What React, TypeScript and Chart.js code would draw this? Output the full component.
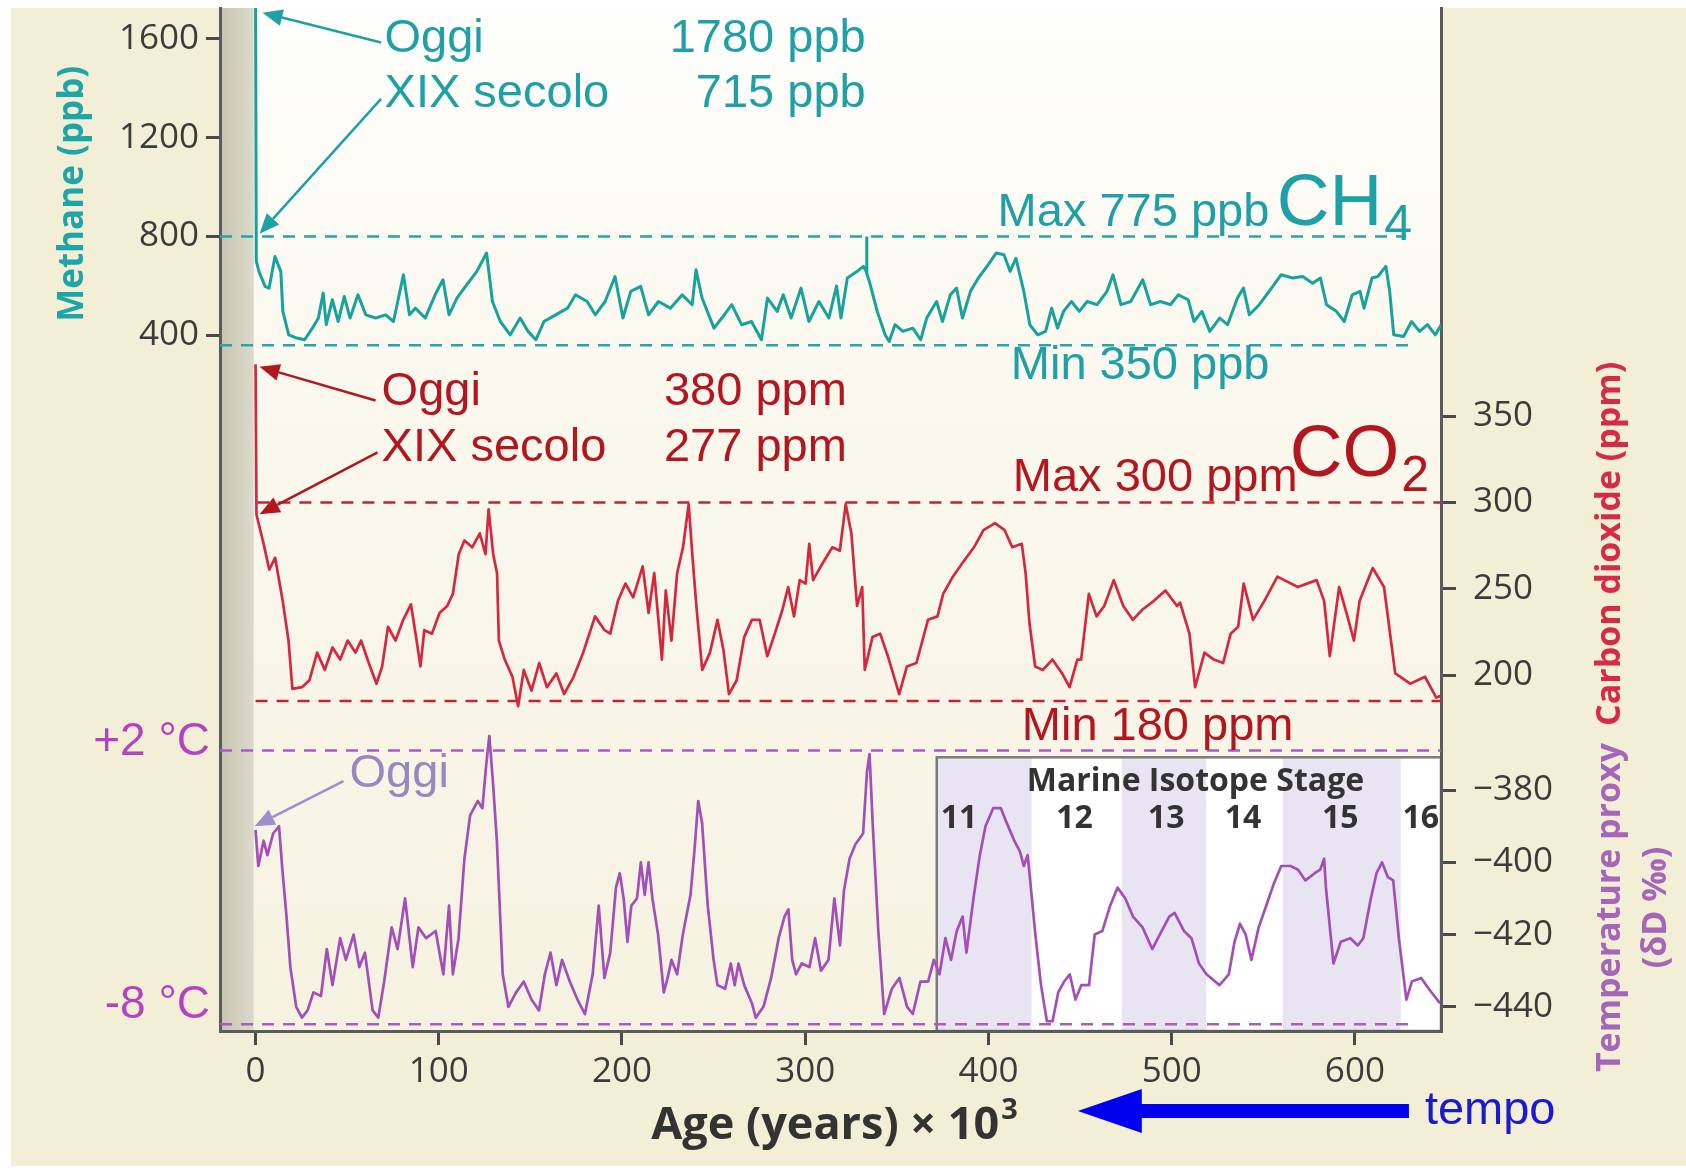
import React, { useEffect, useRef } from 'react';
import { Chart, registerables } from 'chart.js';

Chart.register(...registerables);

const W = 1686;
const H = 1168;

// ---------- axes ----------
const xTickValues = [0, 100, 200, 300, 400, 500, 600];
const xRange = [-19.4, 647];
const ch4TickValues = [400, 800, 1200, 1600];
const ch4Range = [-2416, 1725];
const co2TickValues = [200, 250, 300, 350];
const co2Range = [-6.1, 586.3];
const dDTickValues = [-440, -420, -400, -380];
const dDRange = [-446.7, -163.4];
const tempLabelValues = [-439.5, -366.7];
const tempLabelTexts = ['-8 °C', '+2 °C'];

// ---------- series: [age kyr, value] ----------
const ch4Series = [
  [0, 1780], [0.4, 700], [1.9, 658], [5.2, 598], [7.4, 591], [10.6, 719], [13.8, 658], [14.9, 497], [18.1, 402], [22.5, 389],
  [26.8, 382], [31, 429], [34.3, 470], [36.9, 571], [38.6, 443], [41.9, 544], [45.1, 456], [48.4, 557], [51.6, 470], [55.9, 564],
  [60.2, 483], [65.6, 470], [71, 483], [75.3, 456], [80.7, 645], [84, 483], [87.2, 510], [92.6, 470], [98, 564], [102.3, 625],
  [105.6, 483], [109.9, 551], [115.3, 605], [120.7, 658], [126.1, 733], [129.3, 537], [133.6, 456], [139, 402], [144.4, 470], [148.7, 416],
  [153, 382], [157.4, 456], [163.8, 483], [170.3, 510], [174.6, 564], [181, 537], [185.4, 483], [190.8, 537], [196.2, 638], [200.5, 470],
  [204.8, 578], [210.2, 598], [214.5, 483], [219.9, 537], [226.4, 510], [232.9, 564], [238.3, 524], [240.4, 665], [243.7, 551], [250.2, 429],
  [254.5, 470], [259.9, 524], [265.3, 443], [270.7, 456], [276.1, 382], [279.4, 551], [284.7, 497], [288, 564], [292.3, 470], [297.7, 591],
  [302, 456], [307.5, 537], [312.9, 470], [317.1, 600], [319.5, 470], [323, 632], [328.4, 659], [331.7, 679], [333.3, 660], [333.5, 795],
  [333.7, 650], [335, 618], [339.3, 497], [343.6, 402], [345.8, 375], [349, 443], [353.3, 416], [358.7, 429], [363, 382], [366.3, 470],
  [371.7, 537], [374.9, 456], [379.2, 564], [382.6, 591], [385.8, 470], [390.2, 578], [394.5, 632], [399.9, 686], [404.2, 733], [408.5, 726],
  [411.8, 659], [415, 712], [419.3, 578], [422.6, 443], [426.9, 402], [431.2, 416], [434.5, 510], [437.7, 429], [441, 497], [445.3, 537],
  [449.6, 497], [453.9, 537], [459.3, 524], [464.7, 578], [468, 645], [472.3, 524], [477.7, 537], [484.2, 625], [488.5, 524], [493.9, 537],
  [499.3, 524], [503.6, 564], [509, 544], [512.2, 456], [516.5, 497], [520.8, 416], [526.2, 470], [530.5, 443], [535.9, 551], [539.2, 591],
  [542.4, 483], [547.8, 524], [553.2, 578], [559.7, 645], [566.1, 632], [571.5, 638], [576.9, 611], [581.2, 632], [584.5, 524], [589.9, 497],
  [594.2, 456], [598.5, 564], [602.8, 578], [605, 510], [609.3, 632], [612.5, 638], [616.9, 679], [619, 578], [621.2, 402], [626.6, 395],
  [630.9, 456], [635.3, 416], [639.6, 443], [643.9, 402], [647.1, 443],
];

const co2Series = [
  [0, 380], [0.5, 293], [4.4, 276], [7.5, 261], [10.7, 268], [14.8, 243], [18, 220], [20.1, 192], [25.3, 193], [29.4, 197],
  [33.6, 213], [37.8, 203], [42, 216], [46.2, 209], [50.3, 220], [54.5, 213], [57.6, 220], [61.8, 207], [66, 195], [69.1, 205],
  [72.3, 228], [76.4, 220], [80.6, 232], [84.8, 241], [87.9, 220], [90, 205], [92.1, 226], [96.3, 224], [100.4, 236], [104.6, 240],
  [107.7, 247], [110.9, 270], [114, 278], [118.2, 274], [122.4, 282], [125.5, 270], [127.2, 296], [129.7, 270], [131.8, 259], [132.8, 220],
  [136, 209], [140.2, 199], [143.3, 182], [146.4, 203], [150.6, 191], [154.8, 207], [159, 193], [164.2, 201], [168.4, 189], [173.6, 199],
  [178.8, 213], [185.3, 234], [190.5, 226], [193.6, 224], [197.8, 243], [201.9, 253], [206.1, 245], [211.3, 263], [214.5, 236], [217.6, 259],
  [221.8, 209], [223.9, 249], [227, 220], [230.1, 259], [233.3, 274], [236.4, 299], [238.5, 268], [240.6, 240], [243.8, 203], [248, 213],
  [252.1, 232], [255.3, 215], [258.4, 189], [262.6, 197], [266.7, 222], [270.9, 232], [275.1, 232], [279.3, 211], [283.4, 224], [287.6, 238],
  [290.7, 251], [293.9, 234], [297, 255], [300.2, 253], [302.2, 276], [304.3, 255], [308.5, 263], [314.8, 274], [318.9, 272], [322.1, 299],
  [325.2, 282], [328.3, 240], [331.1, 251], [332.5, 203], [336.7, 222], [340.9, 224], [345.1, 211], [351.3, 189], [355.5, 205], [360.7, 207],
  [367, 232], [372.2, 234], [375.3, 247], [380.6, 257], [385.9, 265], [392.1, 274], [397.3, 284], [403.6, 288], [408.8, 284], [413, 274],
  [418.2, 276], [420.3, 259], [422.4, 230], [425.5, 205], [429.7, 203], [434.9, 209], [440.2, 201], [444.3, 193], [448.5, 209], [450.6, 209],
  [454.8, 247], [459, 234], [463.2, 240], [468.4, 255], [473.6, 240], [478.8, 232], [484.1, 238], [490.3, 243], [496.6, 249], [502.9, 240],
  [504.6, 242], [509.7, 224], [512.8, 193], [517.9, 213], [523, 209], [528.1, 207], [532.2, 224], [536.3, 228], [539.3, 253], [544.4, 232],
  [550.6, 243], [557.7, 257], [568.9, 251], [579.1, 255], [583.2, 243], [586.3, 211], [591.4, 251], [595.4, 236], [599.5, 220], [602.6, 243],
  [609.7, 262], [615.9, 251], [622, 201], [630.2, 195], [638.3, 199], [644.4, 187], [646.9, 188],
];

const dDSeries = [
  [0, -391], [1.5, -401], [4.4, -394], [6.5, -398], [9.6, -392], [12.8, -390], [14.8, -403], [16.9, -415], [19, -429], [22.2, -440],
  [25.3, -443], [28.4, -441], [31.6, -436], [35.7, -437], [38.9, -424], [42, -434], [46.2, -421], [49.3, -427], [53.5, -420], [56.6, -429],
  [59.7, -425], [63.9, -441], [67, -443], [70.2, -433], [74.3, -418], [77.5, -424], [81.6, -410], [85.8, -429], [88.9, -418], [93.1, -421],
  [98.3, -419], [102.5, -431], [105.6, -412], [107.7, -431], [110.8, -421], [114, -399], [117.1, -387], [121.3, -383], [123.8, -385], [125.9, -373],
  [127.6, -365], [129.6, -378], [131.7, -394], [134.9, -431], [138, -440], [142.2, -436], [146.4, -433], [150.6, -438], [154.7, -441], [157.9, -431],
  [161, -425], [164.2, -434], [167.3, -427], [171.5, -433], [175.7, -438], [179.8, -442], [184, -431], [187.3, -412], [190.4, -432], [193.6, -425],
  [196.7, -407], [198.8, -403], [200.9, -410], [203, -422], [205.1, -412], [208.2, -410], [210.3, -400], [212.4, -409], [214.5, -400], [216.6, -410],
  [219.7, -420], [222.8, -436], [224.9, -432], [227, -427], [230.1, -431], [233.2, -420], [237.4, -409], [239.5, -397], [241.6, -383], [243.7, -389],
  [246.8, -412], [250, -427], [252.1, -434], [256.3, -435], [259.4, -428], [261.5, -434], [263.6, -428], [266.7, -434], [270.9, -439], [273, -443],
  [277.2, -440], [281.4, -432], [285.5, -421], [288.7, -415], [290.8, -413], [292.9, -427], [295, -431], [298.1, -428], [302.3, -429], [305.4, -421],
  [308.6, -430], [312.7, -427], [315.9, -410], [319, -423], [321.1, -408], [324.2, -399], [327.4, -395], [331.6, -392], [333.7, -375], [335.1, -370],
  [336.8, -389], [339.9, -419], [343.1, -442], [347.3, -435], [351.4, -432], [355.6, -440], [358.7, -442], [362.9, -433], [367.1, -433], [370.2, -427],
  [373.3, -431], [376.5, -421], [379.6, -427], [382.7, -419], [385.9, -415], [388, -425], [392.1, -409], [395.3, -398], [398.4, -390], [402.6, -385],
  [406.8, -385], [409.9, -389], [414.1, -394], [417.2, -397], [419.3, -401], [421.4, -398], [422.4, -403], [425.6, -420], [428.7, -434], [431.9, -444],
  [435, -444], [438.1, -436], [441.3, -433], [444.4, -431], [447.5, -438], [450.7, -434], [454.9, -434], [458, -420], [462.2, -419], [466.4, -412],
  [470.5, -407], [474.7, -410], [478.9, -415], [484.1, -418], [489.4, -424], [493.5, -420], [498.7, -415], [501.6, -414], [506.7, -419], [510.8, -421],
  [514.9, -428], [519, -431], [526.1, -434], [531.2, -431], [534.3, -422], [537.3, -417], [540.4, -420], [543.5, -427], [547.5, -418], [551.6, -412],
  [555.7, -406], [559.8, -401], [564.9, -401], [568.9, -402], [573, -405], [578.1, -403], [581.1, -402], [583.2, -399], [584.2, -407], [588.3, -428],
  [592.3, -422], [597.5, -421], [601.6, -423], [604.6, -421], [608.7, -410], [611.8, -403], [614.8, -400], [617.9, -404], [620.9, -405], [624, -421],
  [628.1, -438], [631.1, -433], [636.2, -432], [640.3, -435], [646.4, -439],
];

// reference lines: [value, fromAge, toAge]
const ch4RefLines = [[800, -19.4, 628], [360, -19.4, 629]];
const co2RefLines = [[300, 1, 647], [185, 0, 647]];
const dDRefLines = [[-369, -19.4, 647], [-444.8, -19.4, 630]];

// Marine isotope stages
const misBounds = [371.8, 423.6, 472.8, 518.9, 560.7, 625.1, 647];
const misNames = ['11', '12', '13', '14', '15', '16'];
const misLabelAges = [384, 447, 497, 539, 592, 636];
const misTopValue = -370.9;
const presentStrip = [-19.4, -1];

// ---------- styles ----------
const AXIS_FONT = "'Open Sans', 'DejaVu Sans', sans-serif";
const ANN_FONT = "'Liberation Sans', Arial, sans-serif";
const TEAL_LINE = '#17a29a';
const TEAL_TEXT = '#1f9fa6';
const RED_LINE = '#d3283f';
const RED_TEXT = '#b3161f';
const RED_DASH = '#c7222f';
const PURPLE_LINE = '#a24fb8';
const PURPLE_DASH = '#a95cc0';
const PURPLE_TEXT = '#b443c2';
const LAV_TEXT = '#9a87c0';
const TICK_TEXT = '#3b3b3b';
const ANN = 47;

function drawArrow(ctx: any, x0: number, y0: number, x1: number, y1: number, color: string, lw: number, head: number) {
  const ang = Math.atan2(y1 - y0, x1 - x0);
  const bx = x1 - head * Math.cos(ang);
  const by = y1 - head * Math.sin(ang);
  ctx.strokeStyle = color;
  ctx.fillStyle = color;
  ctx.lineWidth = lw;
  ctx.beginPath();
  ctx.moveTo(x0, y0);
  ctx.lineTo(bx, by);
  ctx.stroke();
  const hw = head * 0.42;
  ctx.beginPath();
  ctx.moveTo(x1, y1);
  ctx.lineTo(bx + hw * Math.sin(ang), by - hw * Math.cos(ang));
  ctx.lineTo(bx - hw * Math.sin(ang), by + hw * Math.cos(ang));
  ctx.closePath();
  ctx.fill();
}

function text(ctx: any, t: string, x: number, y: number, color: string, size: number, align = 'left', weight = 'normal', family = ANN_FONT) {
  ctx.font = `${weight} ${size}px ${family}`;
  ctx.fillStyle = color;
  ctx.textAlign = align;
  ctx.textBaseline = 'middle';
  ctx.fillText(t, x, y);
}

function subText(ctx: any, main: string, sub: string, x: number, y: number, color: string, size: number, subSize: number) {
  ctx.font = `normal ${size}px ${ANN_FONT}`;
  ctx.fillStyle = color;
  ctx.textAlign = 'left';
  ctx.textBaseline = 'middle';
  ctx.fillText(main, x, y);
  const w = ctx.measureText(main).width;
  ctx.font = `normal ${subSize}px ${ANN_FONT}`;
  ctx.fillText(sub, x + w + 2, y + size * 0.3);
}

function vText(ctx: any, t: string, cx: number, cy: number, color: string, size: number, weight = 'bold') {
  ctx.save();
  ctx.translate(cx, cy);
  ctx.rotate(-Math.PI / 2);
  ctx.font = `${weight} ${size}px ${AXIS_FONT}`;
  ctx.fillStyle = color;
  ctx.textAlign = 'center';
  ctx.textBaseline = 'middle';
  ctx.fillText(t, 0, 0);
  ctx.restore();
}

const bgPlugin = {
  id: 'bgPlugin',
  beforeDraw(chart: any) {
    const { ctx, chartArea: a, scales } = chart;
    const X = (v: number) => scales.x.getPixelForValue(v);
    const YT = (v: number) => scales.yT.getPixelForValue(v);
    ctx.save();
    ctx.fillStyle = '#ffffff';
    ctx.fillRect(0, 0, W, H);
    ctx.fillStyle = '#f3eed6';
    ctx.fillRect(11, a.top, W - 11, H - a.top - 2);
    const g = ctx.createLinearGradient(0, a.top, 0, a.bottom);
    g.addColorStop(0, '#fefefc');
    g.addColorStop(0.3, '#fbf9f0');
    g.addColorStop(1, '#f6f2e1');
    ctx.fillStyle = g;
    ctx.fillRect(a.left, a.top, a.right - a.left, a.bottom - a.top);
    // present-day strip
    const s0 = X(presentStrip[0]);
    const s1 = X(presentStrip[1]);
    const gs = ctx.createLinearGradient(s0, 0, s1, 0);
    gs.addColorStop(0, '#c6c3af');
    gs.addColorStop(1, '#dcdacb');
    ctx.fillStyle = gs;
    ctx.fillRect(s0, a.top, s1 - s0, a.bottom - a.top);
    // marine isotope stage inset
    const iy = YT(misTopValue);
    for (let i = 0; i < misNames.length; i++) {
      const l = X(misBounds[i]);
      const r = X(misBounds[i + 1]);
      ctx.fillStyle = i % 2 === 0 ? '#e9e4f1' : '#ffffff';
      ctx.fillRect(l, iy, r - l, a.bottom - iy);
    }
    const il = X(misBounds[0]);
    ctx.strokeStyle = '#7b7b7b';
    ctx.lineWidth = 2.5;
    ctx.strokeRect(il, iy, a.right - il, a.bottom - iy);
    text(ctx, 'Marine Isotope Stage', X(513), YT(-377.8), '#333333', 32, 'center', 'bold', AXIS_FONT);
    for (let i = 0; i < misNames.length; i++) {
      text(ctx, misNames[i], X(misLabelAges[i]), YT(-388), '#333333', 32, 'center', 'bold', AXIS_FONT);
    }
    ctx.restore();
  },
};

const annPlugin = {
  id: 'annPlugin',
  afterDatasetsDraw(chart: any) {
    const { ctx, chartArea: a, scales } = chart;
    const X = (v: number) => scales.x.getPixelForValue(v);
    const YC = (v: number) => scales.yCH4.getPixelForValue(v);
    const YO = (v: number) => scales.yCO2.getPixelForValue(v);
    const YT = (v: number) => scales.yT.getPixelForValue(v);
    ctx.save();
    // ---- methane ----
    text(ctx, 'Oggi', X(70.4), YC(1600), TEAL_TEXT, ANN);
    text(ctx, '1780 ppb', X(333), YC(1600), TEAL_TEXT, ANN, 'right');
    text(ctx, 'XIX secolo', X(70.4), YC(1375), TEAL_TEXT, ANN);
    text(ctx, '715 ppb', X(333), YC(1375), TEAL_TEXT, ANN, 'right');
    drawArrow(ctx, X(68.5), YC(1585), X(3.8), YC(1706), TEAL_TEXT, 2.5, 20);
    drawArrow(ctx, X(68.5), YC(1357), X(2.2), YC(811), TEAL_TEXT, 2.5, 20);
    text(ctx, 'Max 775 ppb', X(405), YC(896), TEAL_TEXT, ANN);
    subText(ctx, 'CH', '4', X(557.4), YC(930), TEAL_TEXT, 73, 50);
    text(ctx, 'Min 350 ppb', X(412.2), YC(276), TEAL_TEXT, ANN);
    // ---- CO2 ----
    text(ctx, 'Oggi', X(68.8), YO(364), RED_TEXT, ANN);
    text(ctx, '380 ppm', X(322.7), YO(364), RED_TEXT, ANN, 'right');
    text(ctx, 'XIX secolo', X(68.8), YO(331.4), RED_TEXT, ANN);
    text(ctx, '277 ppm', X(322.7), YO(331.4), RED_TEXT, ANN, 'right');
    drawArrow(ctx, X(65.5), YO(359), X(2.2), YO(378.5), RED_TEXT, 2.5, 20);
    drawArrow(ctx, X(66.6), YO(329), X(2.2), YO(293.2), RED_TEXT, 2.5, 20);
    text(ctx, 'Max 300 ppm', X(413.3), YO(314), RED_TEXT, ANN);
    subText(ctx, 'CO', '2', X(564.5), YO(327), RED_TEXT, 73, 50);
    text(ctx, 'Min 180 ppm', X(418.2), YO(170), RED_TEXT, ANN);
    // ---- temperature ----
    text(ctx, 'Oggi', X(51.3), YT(-375.6), LAV_TEXT, ANN);
    drawArrow(ctx, X(48), YT(-377.5), X(-0.5), YT(-390), '#9d8fcb', 2.5, 20);
    for (let i = 0; i < tempLabelValues.length; i++) {
      text(ctx, tempLabelTexts[i], a.left - 10, YT(tempLabelValues[i]), PURPLE_TEXT, 46, 'right');
    }
    // δD tick labels (same scale as the purple curve)
    for (const v of dDTickValues) {
      text(ctx, '\u2212' + Math.abs(v), a.right + 32, YT(v), TICK_TEXT, 35, 'left', 'normal', AXIS_FONT);
    }
    // ---- axis titles ----
    vText(ctx, 'Methane (ppb)', a.left - 147, YC(973), '#1fa5a8', 35);
    vText(ctx, 'Carbon dioxide (ppm)', a.right + 169, YO(276), '#d62a45', 34);
    vText(ctx, 'Temperature proxy', a.right + 169, YT(-412.5), '#a565b8', 34);
    vText(ctx, '(δD ‰)', a.right + 215, YT(-412.5), '#a565b8', 34);
    // x title with superscript
    ctx.font = `bold 45px ${AXIS_FONT}`;
    const mainT = 'Age (years) × 10';
    const mw = ctx.measureText(mainT).width;
    ctx.font = `bold 29px ${AXIS_FONT}`;
    const sw = ctx.measureText('3').width;
    const cx = X(316);
    const ty = a.bottom + 95;
    const x0 = cx - (mw + sw + 2) / 2;
    text(ctx, mainT, x0, ty, '#333333', 45, 'left', 'bold', AXIS_FONT);
    text(ctx, '3', x0 + mw + 2, ty - 15, '#333333', 29, 'left', 'bold', AXIS_FONT);
    // tempo arrow
    const ay = a.bottom + 80;
    const tip = X(448.8);
    const base = X(483.7);
    const tail = X(629.5);
    ctx.fillStyle = '#0000ee';
    ctx.fillRect(base - 2, ay - 7, tail - base + 2, 14);
    ctx.beginPath();
    ctx.moveTo(tip, ay);
    ctx.lineTo(base, ay - 22);
    ctx.lineTo(base, ay + 22);
    ctx.closePath();
    ctx.fill();
    text(ctx, 'tempo', X(638.2), ay, '#1a1ad0', ANN);
    ctx.restore();
  },
};

function toXY(series: number[][]) {
  return series.map(([x, y]) => ({ x, y }));
}

function refDatasets(lines: number[][], axis: string, color: string) {
  return lines.map(([v, from, to]) => ({
    data: [{ x: from, y: v }, { x: to, y: v }],
    yAxisID: axis,
    borderColor: color,
    borderWidth: 2.5,
    borderDash: [12, 9],
    pointRadius: 0,
    fill: false,
    tension: 0,
  }));
}

const noVPad = (s: any) => { s.paddingTop = 0; s.paddingBottom = 0; };

export default function App() {
  const ref = useRef<HTMLCanvasElement>(null);
  useEffect(() => {
    document.body.style.margin = '0';
    const canvas = ref.current as HTMLCanvasElement;
    const tickFont = { family: AXIS_FONT, size: 35 };
    const tickGrid = (len: number) => ({
      display: true,
      drawOnChartArea: false,
      drawTicks: true,
      tickLength: len,
      color: '#4a4a4a',
      lineWidth: 3,
    });
    const border = { display: true, color: '#5b5b5b', width: 3 };
    const chart = new Chart(canvas, {
      type: 'line',
      data: {
        datasets: [
          { data: toXY(ch4Series), yAxisID: 'yCH4', borderColor: TEAL_LINE, borderWidth: 3, pointRadius: 0, tension: 0, fill: false, borderJoinStyle: 'round' },
          { data: toXY(co2Series), yAxisID: 'yCO2', borderColor: RED_LINE, borderWidth: 2.7, pointRadius: 0, tension: 0, fill: false, borderJoinStyle: 'round' },
          { data: toXY(dDSeries), yAxisID: 'yT', borderColor: PURPLE_LINE, borderWidth: 2.7, pointRadius: 0, tension: 0, fill: false, borderJoinStyle: 'round' },
          ...refDatasets(ch4RefLines, 'yCH4', '#25a5a8'),
          ...refDatasets(co2RefLines, 'yCO2', RED_DASH),
          ...refDatasets(dDRefLines, 'yT', PURPLE_DASH),
        ] as any,
      },
      options: {
        responsive: false,
        devicePixelRatio: 1,
        animation: false,
        events: [],
        layout: { padding: { top: 8, left: 0, right: 0, bottom: 0 } },
        plugins: { legend: { display: false }, tooltip: { enabled: false } },
        scales: {
          x: {
            type: 'linear',
            position: 'bottom',
            min: xRange[0],
            max: xRange[1],
            afterBuildTicks: (s: any) => { s.ticks = xTickValues.map((value) => ({ value })); },
            afterFit: (s: any) => { s.height = 137; s.paddingLeft = 0; s.paddingRight = 0; },
            ticks: { color: TICK_TEXT, font: tickFont, padding: 6, autoSkip: false, maxRotation: 0, callback: (v: any) => String(v) },
            grid: tickGrid(14),
            border,
          },
          yCH4: {
            type: 'linear',
            position: 'left',
            weight: 10,
            min: ch4Range[0],
            max: ch4Range[1],
            afterBuildTicks: (s: any) => { s.ticks = ch4TickValues.map((value) => ({ value })); },
            afterFit: (s: any) => { s.width = 220; noVPad(s); },
            ticks: { color: TICK_TEXT, font: tickFont, padding: 7, autoSkip: false, callback: (v: any) => String(v) },
            grid: tickGrid(14),
            border,
          },
          yCO2: {
            type: 'linear',
            position: 'right',
            weight: 10,
            min: co2Range[0],
            max: co2Range[1],
            afterBuildTicks: (s: any) => { s.ticks = co2TickValues.map((value) => ({ value })); },
            afterFit: (s: any) => { s.width = 245; noVPad(s); },
            ticks: { color: TICK_TEXT, font: tickFont, padding: 17, autoSkip: false, callback: (v: any) => String(v) },
            grid: tickGrid(15),
            border,
          },
          yT: {
            type: 'linear',
            position: 'right',
            weight: 0,
            min: dDRange[0],
            max: dDRange[1],
            afterBuildTicks: (s: any) => { s.ticks = dDTickValues.map((value) => ({ value })); },
            afterFit: (s: any) => { s.width = 0; noVPad(s); },
            ticks: { display: false },
            grid: tickGrid(15),
            border: { display: false },
          },
        },
      } as any,
      plugins: [bgPlugin, annPlugin],
    });
    return () => chart.destroy();
  }, []);
  return (
    <div style={{ position: 'absolute', left: 0, top: 0, width: W, height: H }}>
      <canvas ref={ref} width={W} height={H} style={{ display: 'block', width: W, height: H }} />
    </div>
  );
}
